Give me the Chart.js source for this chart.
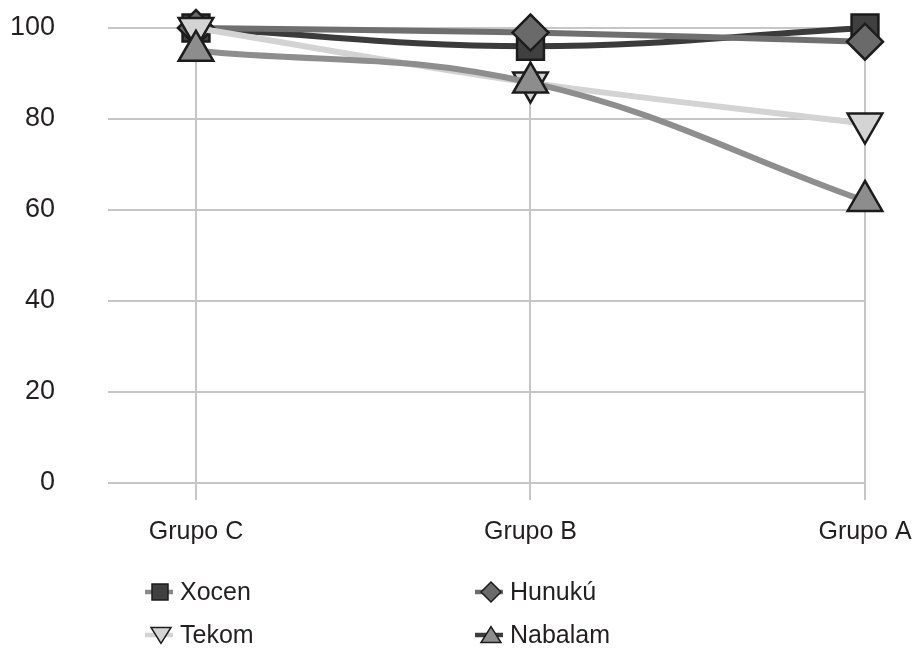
<!DOCTYPE html>
<html><head><meta charset="utf-8">
<script src="https://cdn.jsdelivr.net/npm/chart.js@4.4.1/dist/chart.umd.min.js"></script>
<style>html,body{margin:0;padding:0;background:#fff;} canvas{display:block;}</style>
</head><body>
<canvas id="c" width="923" height="649"></canvas>
<script>
const categories = ['Grupo C', 'Grupo B', 'Grupo A'];
const seriesNames = ['Xocen', 'Hunukú', 'Tekom', 'Nabalam'];
const xocen = [100, 96, 100];
const hunuku = [100, 99, 97];
const tekom = [100, 88, 79];
const nabalam = [95, 88, 62];
const yTicks = [0, 20, 40, 60, 80, 100];

const seriesValues = [xocen, hunuku, tekom, nabalam];
const styles = [
  {line: '#3b3b3b', legendLine: '#8a8a8a', fill: '#404040', point: 'rect', rotation: 0, radius: 19, order: 4},
  {line: '#6f6f6f', legendLine: '#6c6c6c', fill: '#6a6a6a', point: 'rectRot', rotation: 0, radius: 18, order: 3},
  {line: '#d3d3d3', legendLine: '#d3d3d3', fill: '#d4d4d4', point: 'triangle', rotation: 180, radius: 20, order: 2},
  {line: '#8e8e8e', legendLine: '#3c3c3c', fill: '#8d8d8d', point: 'triangle', rotation: 0, radius: 20, order: 1}
];
const FONT = "'Liberation Sans', Arial, sans-serif";
const TEXT = '#231f20';
const GRID = '#c6c6c6';

const datasets = seriesValues.map((vals, i) => ({
  label: seriesNames[i],
  data: vals.map((v, j) => ({x: j, y: v})),
  borderColor: styles[i].line,
  backgroundColor: styles[i].fill,
  borderWidth: 6,
  tension: 0.4,
  pointStyle: styles[i].point,
  pointRotation: styles[i].rotation,
  pointRadius: styles[i].radius,
  pointHoverRadius: styles[i].radius,
  pointBackgroundColor: styles[i].fill,
  pointBorderColor: '#1c1c1c',
  pointBorderWidth: 2.5,
  order: styles[i].order,
  clip: false
}));

function legendShape(ctx, kind, x, y, s) {
  ctx.beginPath();
  if (kind === 0) { ctx.rect(x - s / 2, y - s / 2, s, s); }
  else if (kind === 1) { ctx.moveTo(x, y - s / 2); ctx.lineTo(x + s / 2, y); ctx.lineTo(x, y + s / 2); ctx.lineTo(x - s / 2, y); ctx.closePath(); }
  else if (kind === 2) { ctx.moveTo(x - s / 2, y - s * 0.38); ctx.lineTo(x + s / 2, y - s * 0.38); ctx.lineTo(x, y + s * 0.42); ctx.closePath(); }
  else { ctx.moveTo(x - s / 2, y + s * 0.38); ctx.lineTo(x + s / 2, y + s * 0.38); ctx.lineTo(x, y - s * 0.42); ctx.closePath(); }
  ctx.fill(); ctx.stroke();
}

const legendPlugin = {
  id: 'customLegend',
  afterDraw(chart) {
    const ctx = chart.ctx;
    const cols = [145, 475];
    const rows = [592, 635];
    ctx.save();
    seriesNames.forEach((name, i) => {
      const x = cols[i % 2], y = rows[Math.floor(i / 2)];
      ctx.strokeStyle = styles[i].legendLine;
      ctx.lineWidth = 4.5;
      ctx.beginPath(); ctx.moveTo(x, y); ctx.lineTo(x + 28, y); ctx.stroke();
      ctx.fillStyle = styles[i].fill;
      ctx.strokeStyle = '#1c1c1c';
      ctx.lineWidth = 1.5;
      legendShape(ctx, i, x + (i === 0 ? 15 : 16), y, i === 0 ? 16 : 20);
      ctx.fillStyle = TEXT;
      ctx.font = '25px ' + FONT;
      ctx.textBaseline = 'middle';
      ctx.textAlign = 'left';
      ctx.fillText(name, x + 35, y + 1);
    });
    ctx.restore();
  }
};

new Chart(document.getElementById('c'), {
  type: 'line',
  data: {datasets},
  plugins: [legendPlugin],
  options: {
    responsive: false,
    animation: false,
    layout: {autoPadding: false, padding: {top: 28, right: 58, left: 0, bottom: 0}},
    plugins: {legend: {display: false}, tooltip: {enabled: false}},
    scales: {
      x: {
        type: 'linear',
        min: -0.263,
        max: 2,
        afterBuildTicks: s => { s.ticks = categories.map((c, i) => ({value: i})); },
        afterFit: s => { s.height = 166; s.paddingLeft = 0; s.paddingRight = 0; s.paddingTop = 0; s.paddingBottom = 0; },
        grid: {color: GRID, lineWidth: 2, tickLength: 17, drawTicks: true},
        border: {display: false},
        ticks: {
          autoSkip: false, maxRotation: 0, padding: 17,
          color: TEXT, font: {family: FONT, size: 25},
          callback: v => categories[v]
        }
      },
      y: {
        min: 0,
        max: 100,
        afterBuildTicks: s => { s.ticks = yTicks.map(v => ({value: v})); },
        afterFit: s => { s.width = 108; s.paddingTop = 0; s.paddingBottom = 0; s.paddingLeft = 0; s.paddingRight = 0; },
        grid: {color: GRID, lineWidth: 2, drawTicks: false},
        border: {display: false},
        ticks: {padding: 53, color: TEXT, font: {family: FONT, size: 27}}
      }
    }
  }
});
</script>
</body></html>
